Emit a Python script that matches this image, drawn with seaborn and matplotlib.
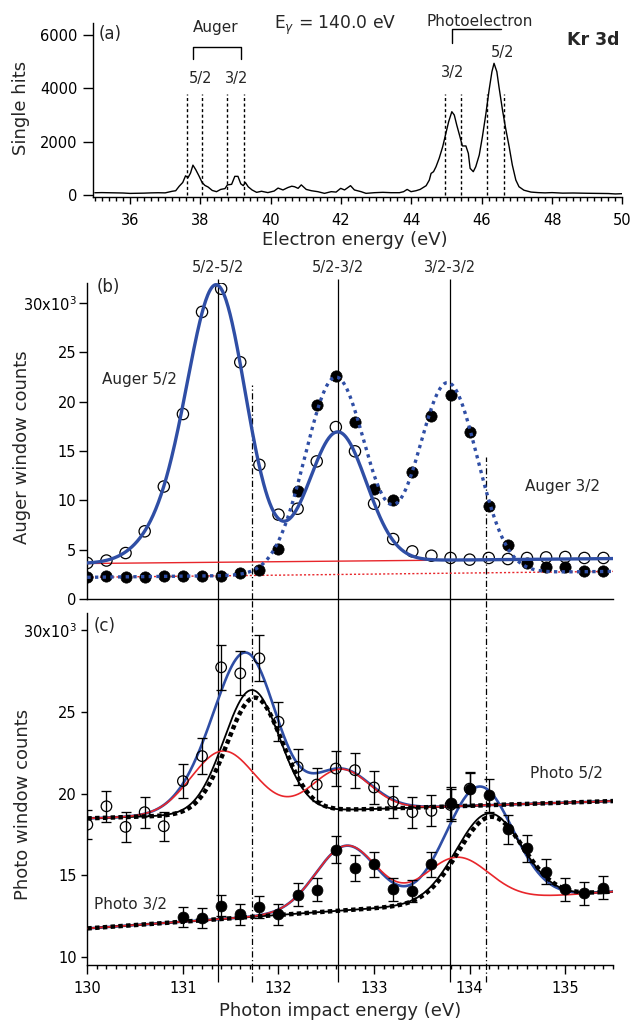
import numpy as np
import matplotlib
matplotlib.use("Agg")
import matplotlib.pyplot as plt
from matplotlib.ticker import FixedLocator, MultipleLocator
import seaborn as sns

sns.set_theme(style="ticks")
plt.rcParams["font.family"] = ["DejaVu Sans"]
plt.rcParams["axes.linewidth"] = 1.0
plt.rcParams["axes.edgecolor"] = "black"
plt.rcParams["xtick.color"] = "black"
plt.rcParams["ytick.color"] = "black"
plt.rcParams["mathtext.fontset"] = "dejavusans"

BLUE = "#2f4ea5"
RED = "#e8262b"

# ---------------- (a) single-hit electron spectrum, E_gamma = 140 eV ----------------
electron_energy = [35.0, 35.2, 35.4, 35.6, 35.8, 36.0, 36.2, 36.4, 36.6, 36.8, 37.0, 37.2,
                   37.3, 37.4, 37.5, 37.58, 37.65, 37.72, 37.79, 37.87, 37.96, 38.05, 38.13,
                   38.22, 38.34, 38.46, 38.58, 38.7, 38.77, 38.89, 38.98, 39.07, 39.15, 39.22,
                   39.28, 39.36, 39.47, 39.6, 39.74, 39.92, 40.1, 40.21, 40.35, 40.49, 40.6,
                   40.68, 40.78, 40.87, 41.01, 41.16, 41.34, 41.53, 41.72, 41.86, 41.99, 42.1,
                   42.27, 42.38, 42.57, 42.71, 42.95, 43.19, 43.42, 43.66, 43.78, 43.88, 43.99,
                   44.13, 44.25, 44.42, 44.51, 44.56, 44.63, 44.7, 44.79, 44.89, 44.98, 45.06,
                   45.15, 45.22, 45.29, 45.38, 45.45, 45.55, 45.62, 45.67, 45.76, 45.83, 45.93,
                   46.02, 46.12, 46.21, 46.29, 46.35, 46.43, 46.49, 46.59, 46.68, 46.78, 46.87,
                   46.97, 47.06, 47.2, 47.4, 47.6, 47.8, 48.0, 48.3, 48.6, 49.0, 49.3, 49.6,
                   49.8, 50.0]
single_hits = [85, 90, 85, 80, 75, 60, 65, 70, 80, 85, 80, 140,
               160, 330, 470, 720, 650, 820, 1120, 950, 720, 470, 360,
               300, 170, 125, 210, 240, 380, 400, 700, 700, 420, 350,
               470, 310, 190, 100, 140, 90, 150, 260, 190, 280, 330,
               310, 250, 380, 210, 160, 125, 62, 125, 110, 250, 190,
               350, 190, 125, 62, 87, 100, 87, 87, 125, 210, 125,
               160, 210, 350, 560, 810, 875, 1060, 1375, 1810, 2310, 2750,
               3125, 3000, 2625, 2190, 1840, 1840, 1560, 1000, 875, 1060, 1500,
               2190, 3060, 3940, 4625, 4940, 4625, 4060, 3190, 2500, 1810, 1125,
               560, 310, 180, 110, 90, 80, 90, 70, 75, 65, 60, 55,
               40, 50]
auger_window_edges = [37.61, 38.05, 38.75, 39.24]
photo_window_edges = [44.95, 45.41, 46.16, 46.64]
window_top = 3780

# ---------------- (b) Auger window counts (x10^3) ----------------
photon_energy = [130.0, 130.2, 130.4, 130.6, 130.8, 131.0, 131.2, 131.4, 131.6, 131.8,
                 132.0, 132.2, 132.4, 132.6, 132.8, 133.0, 133.2, 133.4, 133.6, 133.8,
                 134.0, 134.2, 134.4, 134.6, 134.8, 135.0, 135.2, 135.4]
auger52_counts = [3.65, 3.9, 4.66, 6.86, 11.4, 18.75, 29.1, 31.45, 24.0, 13.6,
                  8.55, 9.15, 13.95, 17.43, 14.97, 9.66, 6.08, 4.83, 4.39, 4.16,
                  3.99, 4.16, 4.05, 4.16, 4.22, 4.26, 4.16, 4.16]
auger32_counts = [2.2, 2.3, 2.2, 2.2, 2.3, 2.36, 2.36, 2.36, 2.64, 2.97,
                  5.07, 10.95, 19.63, 22.6, 17.94, 11.18, 10.07, 12.84, 18.58, 20.71,
                  16.89, 9.39, 5.47, 3.65, 3.24, 3.2, 2.87, 2.8]

# fit results: linear background (start, end) and Gaussian peaks (centre, height, sigma)
auger52_background = [3.6, 4.1]
auger52_peaks = [(131.36, 27.4, 0.30), (130.85, 3.0, 0.30), (132.62, 13.1, 0.30)]
auger32_background = [2.2, 2.8]
auger32_peaks = [(132.60, 20.0, 0.32), (133.77, 19.3, 0.31)]

# ---------------- (c) photoelectron window counts (x10^3) ----------------
photo52_energy = [130.0, 130.2, 130.4, 130.6, 130.8, 131.0, 131.2, 131.4, 131.6, 131.8,
                  132.0, 132.2, 132.4, 132.6, 132.8, 133.0, 133.2, 133.4, 133.6, 133.8, 134.0]
photo52_counts = [18.1, 19.22, 17.96, 18.86, 18.0, 20.76, 22.29, 27.72, 27.35, 28.27,
                  24.39, 21.63, 20.55, 21.53, 21.43, 20.37, 19.49, 18.86, 18.94, 19.3, 20.3]
photo52_err = [0.90, 0.95, 0.90, 0.95, 0.90, 1.05, 1.12, 1.38, 1.35, 1.40,
               1.20, 1.08, 1.00, 1.08, 1.07, 1.00, 0.98, 0.95, 0.95, 0.97, 1.00]
photo32_energy = [131.0, 131.2, 131.4, 131.6, 131.8, 132.0, 132.2, 132.4, 132.6, 132.8,
                  133.0, 133.2, 133.4, 133.6, 133.8, 134.0, 134.2, 134.4, 134.6, 134.8,
                  135.0, 135.2, 135.4]
photo32_counts = [12.45, 12.39, 13.14, 12.61, 13.06, 12.61, 13.82, 14.12, 16.57, 15.45,
                  15.67, 14.14, 14.04, 15.67, 19.44, 20.26, 19.9, 17.81, 16.65, 15.22,
                  14.14, 13.9, 14.24]
photo32_err = [0.62, 0.62, 0.66, 0.63, 0.65, 0.63, 0.69, 0.71, 0.83, 0.77,
               0.78, 0.71, 0.70, 0.78, 0.97, 1.01, 1.00, 0.89, 0.83, 0.76,
               0.71, 0.70, 0.71]

photo52_background = [18.48, 19.54]
photo52_total_peaks = [(131.42, 3.6, 0.33), (131.72, 7.2, 0.29), (132.65, 2.5, 0.31)]
photo52_resonant_peaks = [(131.42, 3.85, 0.33), (132.65, 2.5, 0.30)]
photo52_direct_peaks = [(131.72, 7.52, 0.29)]
photo52_model_peaks = [(131.75, 7.05, 0.29)]
photo32_background = [11.75, 14.0]
photo32_total_peaks = [(132.71, 3.95, 0.32), (134.10, 7.0, 0.35)]
photo32_resonant_peaks = [(132.71, 3.95, 0.32), (133.86, 2.77, 0.34)]
photo32_direct_peaks = [(134.20, 5.32, 0.34)]
photo32_model_peaks = [(134.22, 5.1, 0.34)]

resonance_energies = [131.37, 132.62, 133.79]
resonance_labels = ["5/2-5/2", "5/2-3/2", "3/2-3/2"]
threshold_energies = [131.72, 134.17]
threshold_tops = [21.7, 14.42]

E_GRID = np.linspace(130.0, 135.5, 800)


def fit_curve(background, peaks):
    y = background[0] + (background[1] - background[0]) * (E_GRID - E_GRID[0]) / (E_GRID[-1] - E_GRID[0])
    for centre, height, sigma in peaks:
        y = y + height * np.exp(-0.5 * ((E_GRID - centre) / sigma) ** 2)
    return y


fig = plt.figure(figsize=(6.31, 10.25), dpi=100)
ax_a = fig.add_axes([0.1469, 0.8078, 0.8395, 0.1700])
ax_b = fig.add_axes([0.1384, 0.4156, 0.8331, 0.3083])
ax_c = fig.add_axes([0.1384, 0.0585, 0.8331, 0.3434])

for ax in (ax_a, ax_b, ax_c):
    sns.despine(ax=ax)
    ax.tick_params(axis="both", which="both", direction="out", width=1.0,
                   labelsize=10.5, colors="black")

# ---------- panel (a) ----------
sns.lineplot(x=electron_energy, y=single_hits, ax=ax_a, color="black", lw=1.0, zorder=3)
ax_a.vlines(auger_window_edges + photo_window_edges, 0, window_top, colors="black",
            linestyles=(0, (2.2, 1.8)), lw=1.0, zorder=2)
ax_a.set_xlim(34.94, 50.0)
ax_a.set_ylim(-75, 6461)
ax_a.xaxis.set_major_locator(FixedLocator([36, 38, 40, 42, 44, 46, 48, 50]))
ax_a.xaxis.set_minor_locator(MultipleLocator(0.2))
ax_a.yaxis.set_major_locator(FixedLocator([0, 2000, 4000, 6000]))
ax_a.tick_params(axis="x", which="major", length=4.8, pad=6.5)
ax_a.tick_params(axis="x", which="minor", length=3.0)
ax_a.tick_params(axis="y", which="major", length=7.0, pad=4.0)
ax_a.set_xlabel("Electron energy (eV)", fontsize=13)
ax_a.set_ylabel("Single hits", fontsize=13)
ax_a.xaxis.set_label_coords(0.494, -0.195)
ax_a.yaxis.set_label_coords(-0.119, 0.514)

ax_a.text(35.11, 6030, "(a)", fontsize=12, ha="left", va="center")
ax_a.text(38.43, 6130, "Auger", fontsize=11, ha="center", va="baseline")
ax_a.plot([37.78, 37.78, 39.16, 39.16], [5090, 5560, 5560, 5090], color="black", lw=1.0)
ax_a.text(38.0, 4188, "5/2", fontsize=10.5, ha="center", va="baseline")
ax_a.text(39.02, 4188, "3/2", fontsize=10.5, ha="center", va="baseline")
ax_a.text(41.83, 6214, r"E$_\gamma$ = 140.0 eV", fontsize=12.3, ha="center", va="baseline")
ax_a.text(45.94, 6337, "Photoelectron", fontsize=11, ha="center", va="baseline")
ax_a.plot([45.16, 45.16, 46.55], [5686, 6212, 6212], color="black", lw=1.0)
ax_a.text(45.17, 4436, "3/2", fontsize=10.5, ha="center", va="baseline")
ax_a.text(46.59, 5186, "5/2", fontsize=10.5, ha="center", va="baseline")
ax_a.text(49.16, 5625, "Kr 3d", fontsize=12.5, fontweight="bold", ha="center", va="baseline")

# ---------- panel (b) ----------
ax_b.plot(E_GRID, fit_curve(auger52_background, []), color=RED, lw=1.0, zorder=2)
ax_b.plot(E_GRID, fit_curve(auger32_background, []), color=RED, lw=1.0,
          linestyle=(0, (1.5, 1.5)), zorder=2)
sns.scatterplot(x=photon_energy, y=auger52_counts, ax=ax_b, marker="o", s=66,
                facecolor="none", edgecolor="black", linewidth=0.9, zorder=3)
sns.scatterplot(x=photon_energy, y=auger32_counts, ax=ax_b, marker="o", s=66,
                color="black", edgecolor="black", linewidth=0.5, zorder=3)
ax_b.plot(E_GRID, fit_curve(auger52_background, auger52_peaks), color=BLUE, lw=2.4, zorder=4)
ax_b.plot(E_GRID, fit_curve(auger32_background, auger32_peaks), color=BLUE, lw=2.4,
          linestyle=(0, (1.0, 1.3)), zorder=4)

ax_b.set_xlim(130.0, 135.5)
ax_b.set_ylim(0, 32.03)
ax_b.set_xticks([])
ax_b.yaxis.set_major_locator(FixedLocator([0, 5, 10, 15, 20, 25, 30]))
ax_b.set_yticklabels(["0", "5", "10", "15", "20", "25", r"30x10$^3$"])
ax_b.tick_params(axis="y", which="major", length=5.5, pad=2.5)
ax_b.set_ylabel("Auger window counts", fontsize=13)
ax_b.yaxis.set_label_coords(-0.107, 0.482)
ax_b.text(130.10, 31.66, "(b)", fontsize=12, ha="left", va="center")
ax_b.text(130.54, 22.2, "Auger 5/2", fontsize=11, ha="center", va="center")
ax_b.text(134.97, 11.38, "Auger 3/2", fontsize=11, ha="center", va="center")

for x, label in zip(resonance_energies, resonance_labels):
    ax_b.vlines(x, 0, 32.43, colors="black", lw=0.9, clip_on=False, zorder=1.5)
    ax_b.text(x, 33.6, label, fontsize=10.5, ha="center", va="center")
    ax_c.vlines(x, 8.47, 31.9, colors="black", lw=0.9, clip_on=False, zorder=1.5)
for x, top in zip(threshold_energies, threshold_tops):
    ax_b.vlines(x, 0, top, colors="black", lw=0.9, linestyles=(0, (5, 2, 1, 2)),
                clip_on=False, zorder=1.5)
    ax_c.vlines(x, 8.47, 31.9, colors="black", lw=0.9, linestyles=(0, (5, 2, 1, 2)),
                clip_on=False, zorder=1.5)

# ---------- panel (c) ----------
for bg, total, resonant, direct, model in (
        (photo52_background, photo52_total_peaks, photo52_resonant_peaks,
         photo52_direct_peaks, photo52_model_peaks),
        (photo32_background, photo32_total_peaks, photo32_resonant_peaks,
         photo32_direct_peaks, photo32_model_peaks)):
    ax_c.plot(E_GRID, fit_curve(bg, total), color=BLUE, lw=1.9, zorder=2)
    ax_c.plot(E_GRID, fit_curve(bg, direct), color="black", lw=1.3, zorder=3)
    ax_c.plot(E_GRID, fit_curve(bg, resonant), color=RED, lw=1.2, zorder=4)
    ax_c.plot(E_GRID, fit_curve(bg, model), color="black", lw=3.2,
              linestyle=(0, (1.0, 0.75)), zorder=5)

ax_c.errorbar(photo52_energy, photo52_counts, yerr=photo52_err, fmt="none",
              ecolor="black", elinewidth=0.95, capsize=3.6, capthick=0.95, zorder=6)
ax_c.errorbar(photo32_energy, photo32_counts, yerr=photo32_err, fmt="none",
              ecolor="black", elinewidth=0.95, capsize=3.6, capthick=0.95, zorder=6)
sns.scatterplot(x=photo52_energy, y=photo52_counts, ax=ax_c, marker="o", s=58,
                facecolor="none", edgecolor="black", linewidth=0.9, zorder=7)
sns.scatterplot(x=photo32_energy, y=photo32_counts, ax=ax_c, marker="o", s=62,
                color="black", edgecolor="black", linewidth=0.5, zorder=7)

ax_c.set_xlim(130.0, 135.5)
ax_c.set_ylim(9.51, 31.04)
ax_c.xaxis.set_major_locator(FixedLocator([130, 131, 132, 133, 134, 135]))
ax_c.xaxis.set_minor_locator(MultipleLocator(0.1))
ax_c.yaxis.set_major_locator(FixedLocator([10, 15, 20, 25, 30]))
ax_c.set_yticklabels(["10", "15", "20", "25", r"30x10$^3$"])
ax_c.tick_params(axis="x", which="major", length=6.2, pad=5.4)
ax_c.tick_params(axis="x", which="minor", length=2.9)
ax_c.tick_params(axis="y", which="major", length=4.5, pad=3.0)
ax_c.set_xlabel("Photon impact energy (eV)", fontsize=13)
ax_c.set_ylabel("Photo window counts", fontsize=13)
ax_c.xaxis.set_label_coords(0.48, -0.106)
ax_c.yaxis.set_label_coords(-0.105, 0.457)
ax_c.text(130.063, 30.24, "(c)", fontsize=12, ha="left", va="center")
ax_c.text(135.01, 21.25, "Photo 5/2", fontsize=11, ha="center", va="center")
ax_c.text(130.45, 13.24, "Photo 3/2", fontsize=11, ha="center", va="center")

fig.savefig("out.png", dpi=100)
